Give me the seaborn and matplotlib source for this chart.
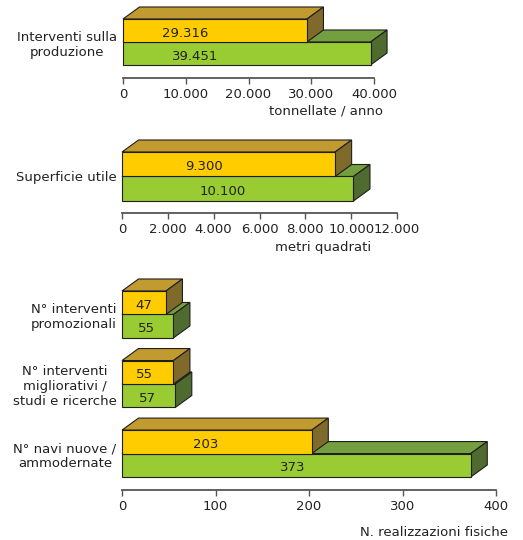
import numpy as np
import pandas as pd
import matplotlib
matplotlib.use("Agg")
import matplotlib.pyplot as plt
from matplotlib.patches import Polygon
import seaborn as sns

# ---------------- data ----------------
series_names = ["valore 1", "valore 2"]

p1_cats = ["Interventi sulla\nproduzione"]
p1_yellow = [29316]
p1_green = [39451]
p1_ticks = [0, 10000, 20000, 30000, 40000]
p1_xlabel = "tonnellate / anno"

p2_cats = ["Superficie utile"]
p2_yellow = [9300]
p2_green = [10100]
p2_ticks = [0, 2000, 4000, 6000, 8000, 10000, 12000]
p2_xlabel = "metri quadrati"

p3_cats = ["N° interventi\npromozionali",
           "N° interventi\nmigliorativi /\nstudi e ricerche",
           "N° navi nuove /\nammodernate"]
p3_yellow = [47, 55, 203]
p3_green = [55, 57, 373]
p3_ticks = [0, 100, 200, 300, 400]
p3_xlabel = "N. realizzazioni fisiche"

# ---------------- style ----------------
W, H = 523, 540
DPI = 100
FS = 9.5
TXT = "#222222"
EDGE = "#1e1e1e"
Y_FRONT, Y_TOP, Y_SIDE = "#FFCC00", "#C29B30", "#806A2B"
G_FRONT, G_TOP, G_SIDE = "#99CC33", "#739F3F", "#4F6B2F"
DX_PX, DY_PX = 16.5, 12.0

sns.set_theme(style="white")
plt.rcParams["font.family"] = ["DejaVu Sans"]

fig = plt.figure(figsize=(W / DPI, H / DPI), dpi=DPI)


def fmt(v):
    return f"{v:,.0f}".replace(",", ".")


def panel(rect_px, cats, yv, gv, ticks, width, ylim, label_fracs):
    left, top, right, bottom = rect_px
    ax = fig.add_axes([left / W, 1 - bottom / H, (right - left) / W, (bottom - top) / H])
    df = pd.DataFrame({
        "cat": cats + cats,
        "serie": [series_names[0]] * len(cats) + [series_names[1]] * len(cats),
        "valore": yv + gv,
    })
    sns.barplot(data=df, x="valore", y="cat", hue="serie", orient="h",
                palette=[Y_FRONT, G_FRONT], saturation=1, width=width,
                edgecolor=EDGE, linewidth=0.8, legend=False, ax=ax, errorbar=None)
    xmax = ticks[-1]
    ax.set_xlim(0, xmax)
    ax.set_ylim(*ylim)
    ppx = (right - left) / xmax
    ppy = (bottom - top) / (ylim[0] - ylim[1])
    ddx = DX_PX / ppx
    ddy = DY_PX / ppy

    faces = [(ax.containers[1], G_TOP, G_SIDE, 2, 3, gv, label_fracs[1]),
             (ax.containers[0], Y_TOP, Y_SIDE, 4, 5, yv, label_fracs[0])]
    for cont, ctop, cside, zf, zb, vals, fracs in faces:
        for i, p in enumerate(cont.patches):
            x0, y0 = p.get_x(), p.get_y()
            w, h = p.get_width(), p.get_height()
            x1, y1 = x0 + w, y0 + h
            topf = Polygon([(x0, y0), (x1, y0), (x1 + ddx, y0 - ddy), (x0 + ddx, y0 - ddy)],
                           closed=True, facecolor=ctop, edgecolor=EDGE, lw=0.8,
                           zorder=zf, clip_on=False)
            side = Polygon([(x1, y0), (x1, y1), (x1 + ddx, y1 - ddy), (x1 + ddx, y0 - ddy)],
                           closed=True, facecolor=cside, edgecolor=EDGE, lw=0.8,
                           zorder=zf, clip_on=False)
            ax.add_patch(topf)
            ax.add_patch(side)
            p.set_zorder(zb)
            p.set_clip_on(False)
            ax.text(x0 + w * fracs[i], (y0 + y1) / 2 + 2.5 / ppy, fmt(vals[i]),
                    ha="center", va="center", fontsize=FS, color=TXT, zorder=zb + 1)

    ax.set_xticks(ticks)
    ax.set_xticklabels([fmt(t) for t in ticks])
    ax.set_xlabel("")
    ax.set_ylabel("")
    for s in ["top", "right", "left"]:
        ax.spines[s].set_visible(False)
    ax.spines["bottom"].set_color("#555555")
    ax.spines["bottom"].set_linewidth(1.3)
    ax.tick_params(axis="x", direction="out", length=4, width=1, color="#555555",
                   labelsize=FS, labelcolor=TXT, pad=3, bottom=True)
    ax.tick_params(axis="y", length=0, labelsize=FS, labelcolor=TXT, pad=4)
    for lab in ax.get_yticklabels():
        lab.set_multialignment("center")
    ax.patch.set_visible(False)
    return ax


panel((123, 19, 374, 78), p1_cats, p1_yellow, p1_green, p1_ticks, 0.8,
      (0.626, -0.4), ([0.337], [0.29]))
panel((122, 152, 397, 213), p2_cats, p2_yellow, p2_green, p2_ticks, 0.8,
      (0.596, -0.4), ([0.385], [0.436]))
panel((122, 291, 496, 490), p3_cats, p3_yellow, p3_green, p3_ticks, 0.675,
      (2.524, -0.3375), ([0.5, 0.44, 0.44], [0.48, 0.48, 0.49]))

fig.text(383 / W, 1 - 111 / H, p1_xlabel, ha="right", va="center", fontsize=FS, color=TXT)
fig.text(371 / W, 1 - 248 / H, p2_xlabel, ha="right", va="center", fontsize=FS, color=TXT)
fig.text(508 / W, 1 - 532 / H, p3_xlabel, ha="right", va="center", fontsize=FS, color=TXT)

fig.savefig("out.png", dpi=DPI)
